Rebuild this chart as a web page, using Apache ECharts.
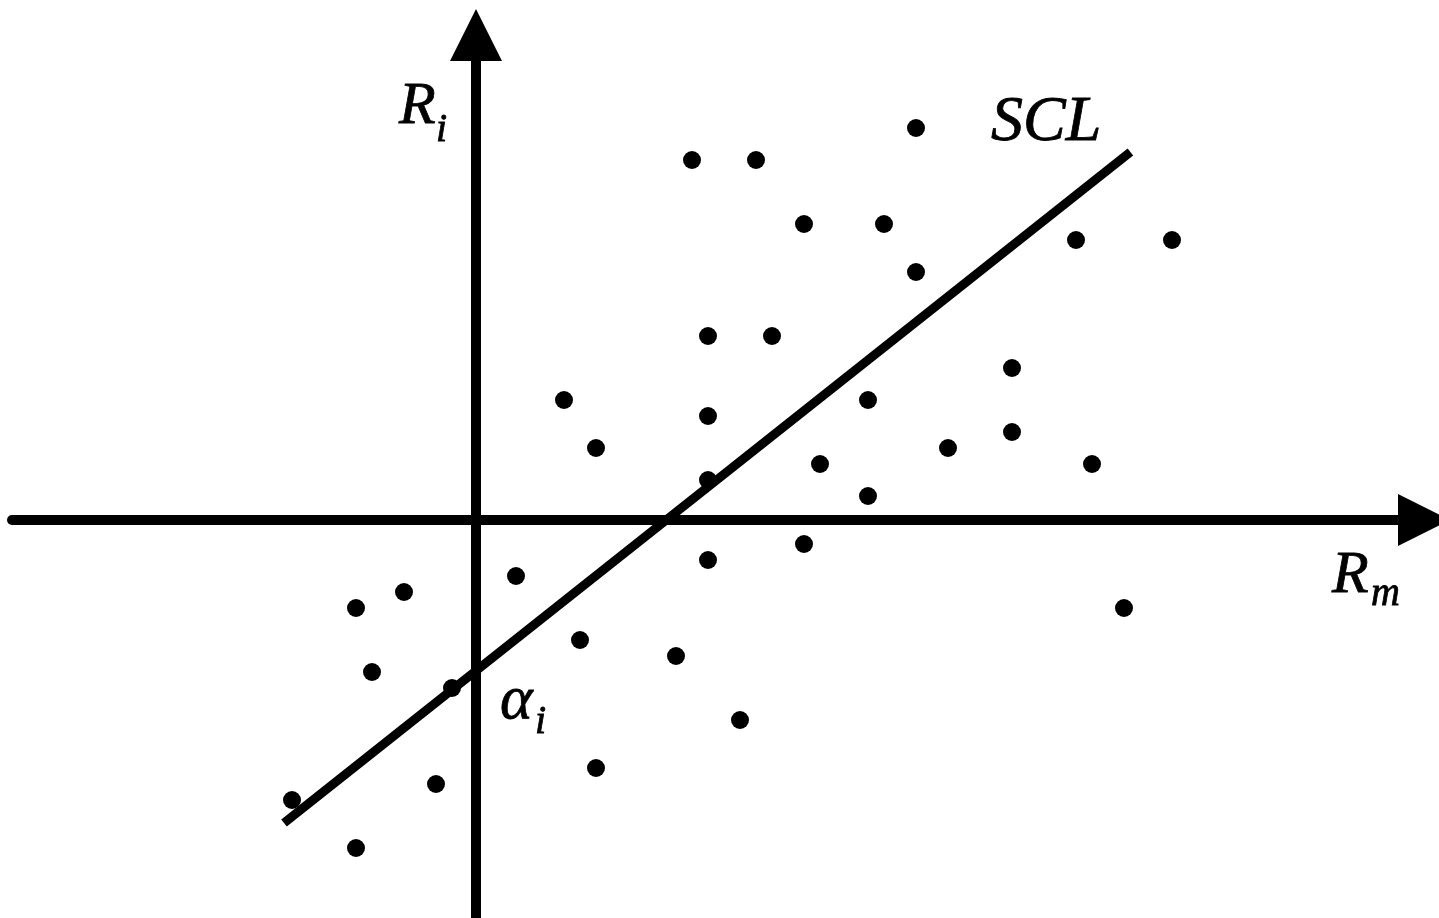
<!DOCTYPE html>
<html>
<head>
<meta charset="utf-8">
<style>
html,body{margin:0;padding:0;background:#fff;}
#main{width:1439px;height:918px;}
</style>
<script src="https://cdn.jsdelivr.net/npm/echarts@6/dist/echarts.min.js"></script>
</head>
<body>
<div id="main"></div>
<script>
// market return (x) and stock return (y), one unit = one grid step of the sketch
const rm = [27.5, 13.5, 17.5, 20.5, 25.5, 37.5, 43.5, 27.5, 14.5, 18.5, 33.5, 5.5,
    24.5, 14.5, 7.5, 29.5, 33.5, 21.5, 38.5, 14.5, 24.5, 20.5, 14.5, 2.5,
    -4.5, -7.5, 40.5, 6.5, 12.5, -6.5, -1.5, 16.5, 7.5, -2.5, -11.5, -7.5];
const ri = [24.5, 22.5, 22.5, 18.5, 18.5, 17.5, 17.5, 15.5, 11.5, 11.5, 9.5, 7.5,
    7.5, 6.5, 4.5, 4.5, 5.5, 3.5, 3.5, 2.5, 1.5, -1.5, -2.5, -3.5,
    -4.5, -5.5, -5.5, -7.5, -8.5, -9.5, -10.5, -12.5, -15.5, -16.5, -17.5, -20.5];
// security characteristic line, its two ends
const sclX = [-12, 40.9];
const sclY = [-18.94, 23.0];

const myChart = echarts.init(document.getElementById('main'));

let points = [];
for (let i = 0; i < rm.length; i++) {
    points.push([rm[i], ri[i]]);
}
let scl = [];
for (let i = 0; i < sclX.length; i++) {
    scl.push([sclX[i], sclY[i]]);
}

const axisLine = {
    show: true,
    onZero: true,
    symbol: ['none', 'triangle'],
    symbolSize: [52, 52],
    lineStyle: { color: '#000', width: 10 }
};

function label(x, y, text, size) {
    return {
        type: 'text',
        x: x,
        y: y,
        style: {
            text: text,
            font: 'italic ' + size + 'px "Liberation Serif", "Times New Roman", serif',
            fill: '#000',
            stroke: '#000',
            lineWidth: 0.8,
            align: 'left',
            verticalAlign: 'middle'
        }
    };
}

myChart.setOption({
    animation: false,
    grid: { left: 12, right: 15, top: 35, bottom: 0 },
    xAxis: {
        type: 'value',
        min: -29,
        max: 59.25,
        axisLine: axisLine,
        axisTick: { show: false },
        axisLabel: { show: false },
        splitLine: { show: false }
    },
    yAxis: {
        type: 'value',
        min: -24.875,
        max: 30.3125,
        axisLine: axisLine,
        axisTick: { show: false },
        axisLabel: { show: false },
        splitLine: { show: false }
    },
    series: [
        {
            name: 'returns',
            type: 'scatter',
            symbol: 'circle',
            symbolSize: 18,
            itemStyle: { color: '#000', opacity: 1 },
            data: points
        },
        {
            name: 'SCL',
            type: 'line',
            showSymbol: false,
            symbol: 'none',
            lineStyle: { color: '#000', width: 9, cap: 'butt' },
            data: scl
        }
    ],
    graphic: [
        label(399, 107, 'R', 60),
        label(436, 130, 'i', 40),
        label(1332, 576, 'R', 60),
        label(1371, 594, 'm', 40),
        label(500, 702, 'α', 62),
        label(535, 722, 'i', 40),
        label(991, 123, 'SCL', 64)
    ]
});
</script>
</body>
</html>
